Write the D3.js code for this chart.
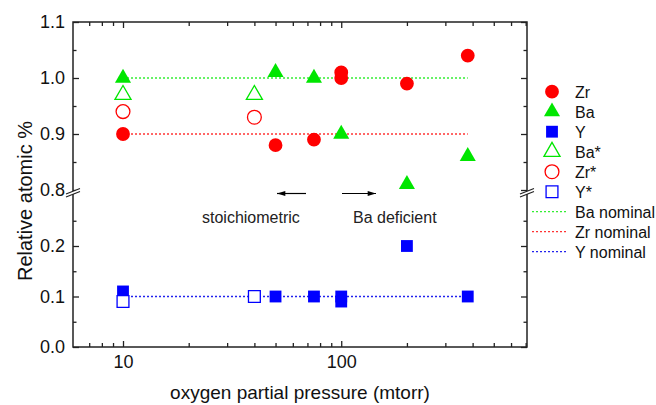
<!DOCTYPE html>
<html>
<head>
<meta charset="utf-8">
<script src="https://cdn.jsdelivr.net/npm/d3@7"></script>
<style>
  body { margin: 0; background: #fff; }
  svg { display: block; font-family: "Liberation Sans", Arial, sans-serif; }
</style>
</head>
<body>
<div id="chart"></div>
<script>
// Data
const zrX = [10, 50, 75, 100, 100, 200, 380];
const zrY = [0.90, 0.88, 0.89, 1.01, 1.00, 0.99, 1.04];
const baX = [10, 50, 75, 100, 200, 380];
const baY = [1.00, 1.01, 1.00, 0.90, 0.81, 0.86];
const yX = [10, 50, 75, 100, 100, 200, 380];
const yY = [0.11, 0.10, 0.10, 0.10, 0.09, 0.20, 0.10];
const baStarX = [10, 40];
const baStarY = [0.97, 0.97];
const zrStarX = [10, 40];
const zrStarY = [0.94, 0.93];
const yStarX = [10, 40];
const yStarY = [0.09, 0.10];
const nominalX = [10, 380];
const baNominal = 1.0;
const zrNominal = 0.9;
const yNominal = 0.1;

const xMajorTicks = [10, 100];
const xMinorTicks = [7, 8, 9, 20, 30, 40, 50, 60, 70, 80, 90, 200, 300, 400, 500, 600, 700];
const yTopTicks = [0.8, 0.9, 1.0, 1.1];
const yTopMinor = [0.85, 0.95, 1.05];
const yBotTicks = [0.0, 0.1, 0.2];
const yBotMinor = [0.05, 0.15, 0.25];

const W = 656, H = 405;
const plotLeft = 73, plotRight = 527, plotTop = 22, plotBottom = 347;
const breakY = 192.5;

const svg = d3.select('#chart').append('svg')
    .attr('width', W)
    .attr('height', H);

const x = d3.scaleLog().domain([5.9, 710]).range([plotLeft, plotRight]);
const yTop = d3.scaleLinear().domain([0.8, 1.1]).range([190, plotTop]);
const yBot = d3.scaleLinear().domain([0, 0.3]).range([plotBottom, 195.5]);
// pick the right segment of the broken axis
const yPos = v => v >= 0.5 ? yTop(v) : yBot(v);

const red = '#ff0000', green = '#00e600', blue = '#0000ff';
const axisColor = '#222';

// nominal dotted lines
const nominals = [
    { v: baNominal, color: '#33ee33' },
    { v: zrNominal, color: '#ff3333' },
    { v: yNominal, color: '#2222ee' }
];
nominals.forEach(n => {
    svg.append('line')
        .attr('x1', x(nominalX[0])).attr('x2', x(nominalX[1]))
        .attr('y1', yPos(n.v)).attr('y2', yPos(n.v))
        .attr('stroke', n.color)
        .attr('stroke-width', 1.3)
        .attr('stroke-dasharray', '2,2');
});

// axes
function styleAxis(g) {
    g.select('.domain').remove();
    g.selectAll('line').attr('stroke', axisColor).attr('stroke-width', 1.3);
    g.selectAll('text').style('font-size', '18px').attr('fill', '#111');
}

const yAxes = [
    { scale: yTop, major: yTopTicks, minor: yTopMinor },
    { scale: yBot, major: yBotTicks, minor: yBotMinor }
];
yAxes.forEach(a => {
    svg.append('g')
        .attr('transform', `translate(${plotLeft},0)`)
        .call(d3.axisLeft(a.scale).tickValues(a.major).tickSize(-6).tickPadding(8).tickFormat(d3.format('.1f')))
        .call(styleAxis);
    svg.append('g')
        .attr('transform', `translate(${plotLeft},0)`)
        .call(d3.axisLeft(a.scale).tickValues(a.minor).tickSize(-3.5).tickFormat(''))
        .call(styleAxis);
    svg.append('g')
        .attr('transform', `translate(${plotRight},0)`)
        .call(d3.axisRight(a.scale).tickValues(a.major).tickSize(-6).tickFormat(''))
        .call(styleAxis);
    svg.append('g')
        .attr('transform', `translate(${plotRight},0)`)
        .call(d3.axisRight(a.scale).tickValues(a.minor).tickSize(-3.5).tickFormat(''))
        .call(styleAxis);
});

svg.append('g')
    .attr('transform', `translate(0,${plotBottom})`)
    .call(d3.axisBottom(x).tickValues(xMajorTicks).tickSize(-6).tickPadding(8).tickFormat(d3.format('d')))
    .call(styleAxis);
svg.append('g')
    .attr('transform', `translate(0,${plotBottom})`)
    .call(d3.axisBottom(x).tickValues(xMinorTicks).tickSize(-4).tickFormat(''))
    .call(styleAxis);
svg.append('g')
    .attr('transform', `translate(0,${plotTop})`)
    .call(d3.axisTop(x).tickValues(xMajorTicks).tickSize(-6).tickFormat(''))
    .call(styleAxis);
svg.append('g')
    .attr('transform', `translate(0,${plotTop})`)
    .call(d3.axisTop(x).tickValues(xMinorTicks).tickSize(-4).tickFormat(''))
    .call(styleAxis);

// frame
svg.append('rect')
    .attr('x', plotLeft).attr('y', plotTop)
    .attr('width', plotRight - plotLeft).attr('height', plotBottom - plotTop)
    .attr('fill', 'none')
    .attr('stroke', axisColor)
    .attr('stroke-width', 1.5);

// break marks on both vertical axes
[plotLeft, plotRight].forEach(bx => {
    svg.append('path')
        .attr('d', `M${bx - 7},${breakY + 1.5} L${bx + 7},${breakY - 4} L${bx + 7},${breakY - 1} L${bx - 7},${breakY + 4.5} Z`)
        .attr('fill', '#fff');
    svg.append('path')
        .attr('d', `M${bx - 7},${breakY + 1.5} L${bx + 7},${breakY - 4} M${bx - 7},${breakY + 4.5} L${bx + 7},${breakY - 1}`)
        .attr('stroke', axisColor)
        .attr('stroke-width', 1.2);
});

// markers
const sym = {
    circle: d3.symbol().type(d3.symbolCircle).size(150),
    triangle: d3.symbol().type(d3.symbolTriangle).size(112),
    square: d3.symbol().type(d3.symbolSquare).size(140)
};

const series = [
    { name: 'Zr', xs: zrX, ys: zrY, shape: 'circle', color: red, open: false },
    { name: 'Ba', xs: baX, ys: baY, shape: 'triangle', color: green, open: false },
    { name: 'Y', xs: yX, ys: yY, shape: 'square', color: blue, open: false },
    { name: 'Ba*', xs: baStarX, ys: baStarY, shape: 'triangle', color: green, open: true },
    { name: 'Zr*', xs: zrStarX, ys: zrStarY, shape: 'circle', color: red, open: true },
    { name: 'Y*', xs: yStarX, ys: yStarY, shape: 'square', color: blue, open: true }
];

function drawMarker(sel, s) {
    sel.attr('d', sym[s.shape]())
        .attr('fill', s.open ? '#fff' : s.color)
        .attr('stroke', s.open ? s.color : 'none')
        .attr('stroke-width', s.open ? 1.3 : 0);
}

series.forEach(s => {
    svg.append('g').selectAll('path')
        .data(s.xs.map((v, i) => ({ x: v, y: s.ys[i] })))
        .enter()
        .append('path')
        .attr('transform', d => `translate(${x(d.x)},${yPos(d.y)})`)
        .call(drawMarker, s);
});

// annotations
svg.append('defs').append('marker')
    .attr('id', 'arrow')
    .attr('viewBox', '0 0 10 6')
    .attr('refX', 10).attr('refY', 3)
    .attr('markerWidth', 9).attr('markerHeight', 5)
    .attr('markerUnits', 'userSpaceOnUse')
    .attr('orient', 'auto')
    .append('path')
    .attr('d', 'M0,0 L10,3 L0,6 Z')
    .attr('fill', '#000');

svg.append('line')
    .attr('x1', 306).attr('y1', 193.5).attr('x2', 277).attr('y2', 193.5)
    .attr('stroke', '#000').attr('stroke-width', 1.2)
    .attr('marker-end', 'url(#arrow)');
svg.append('line')
    .attr('x1', 342).attr('y1', 193.5).attr('x2', 376).attr('y2', 193.5)
    .attr('stroke', '#000').attr('stroke-width', 1.2)
    .attr('marker-end', 'url(#arrow)');

svg.append('text')
    .attr('x', 202).attr('y', 223)
    .style('font-size', '16px').attr('fill', '#222')
    .text('stoichiometric');
svg.append('text')
    .attr('x', 353).attr('y', 223)
    .style('font-size', '16px').attr('fill', '#222')
    .text('Ba deficient');

// axis titles
svg.append('text')
    .attr('text-anchor', 'middle')
    .attr('x', 300).attr('y', 399)
    .style('font-size', '19px').attr('fill', '#111')
    .text('oxygen partial pressure (mtorr)');
svg.append('text')
    .attr('text-anchor', 'middle')
    .attr('transform', 'translate(32,201) rotate(-90)')
    .style('font-size', '20px').attr('fill', '#111')
    .text('Relative atomic %');

// legend
const legendX = 552, legendY = 91.7, rowH = 20;
const legend = svg.append('g');
series.forEach((s, i) => {
    const row = legend.append('g').attr('transform', `translate(${legendX},${legendY + i * rowH})`);
    row.append('path').call(drawMarker, s);
    row.append('text')
        .attr('x', 23).attr('y', 6)
        .style('font-size', '16px').attr('fill', '#111')
        .text(s.name);
});
const nominalNames = ['Ba nominal', 'Zr nominal', 'Y nominal'];
nominals.forEach((n, i) => {
    const row = legend.append('g')
        .attr('transform', `translate(${legendX},${legendY + (series.length + i) * rowH})`);
    row.append('line')
        .attr('x1', -20).attr('x2', 14)
        .attr('stroke', n.color)
        .attr('stroke-width', 1.3)
        .attr('stroke-dasharray', '2,2');
    row.append('text')
        .attr('x', 23).attr('y', 6)
        .style('font-size', '16px').attr('fill', '#111')
        .text(nominalNames[i]);
});
</script>
</body>
</html>
